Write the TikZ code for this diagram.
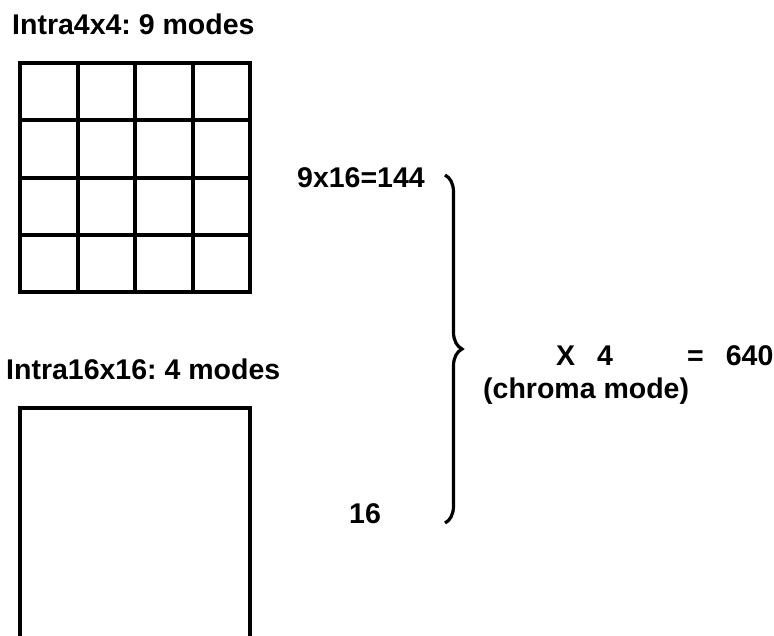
\documentclass[tikz,border=0pt]{standalone}
\usepackage{fontspec}
\setmainfont{Liberation Sans}
\frenchspacing
\usetikzlibrary{calc,decorations.pathreplacing}
\begin{document}
\begin{tikzpicture}[x=1pt,y=-1pt,
    teks/.style={inner sep=0pt,anchor=base west,font=\fontsize{28.5}{34}\selectfont\bfseries},
    kotak/.style={draw,line width=4pt,inner sep=0pt,outer sep=0pt,anchor=north west,minimum width=230pt},
    garis/.style={line width=4pt},
    kurung/.style={line width=3.2pt,decorate,decoration={brace,amplitude=17pt}}]
    \clip (0,0) rectangle (774,635);
    % Blok 4x4
    \node[teks] (judulkecil) at (12,34) {Intra4x4: 9 modes};
    \node[kotak,minimum height=229pt] (blokkecil) at (20,63) {};
    \foreach \i in {1,2,3} {
        \draw[garis] ($(blokkecil.north west)!\i/4!(blokkecil.north east)$) -- ($(blokkecil.south west)!\i/4!(blokkecil.south east)$);
        \draw[garis] ($(blokkecil.north west)!\i/4!(blokkecil.south west)$) -- ($(blokkecil.north east)!\i/4!(blokkecil.south east)$);
    }
    % Blok 16x16
    \node[teks] (judulbesar) at (6,379) {Intra16x16: 4 modes};
    \node[kotak,minimum height=260pt] (blokbesar) at (20,408) {};
    % Jumlah mode
    \node[teks] (luma4) at (297,187) {9x16=144};
    \node[teks] (luma16) at (349,523) {16};
    \coordinate (atas) at (445,175);
    \coordinate (bawah) at (445,523);
    \draw[kurung] (atas) -- (bawah);
    % Kali chroma
    \node[teks] (kali) at (556,365) {X\hspace{22pt}4};
    \node[teks] (chroma) at (483,398) {(chroma mode)};
    \node[teks] (hasil) at (687,365) {=\hspace{22pt}640};
\end{tikzpicture}
\end{document}
